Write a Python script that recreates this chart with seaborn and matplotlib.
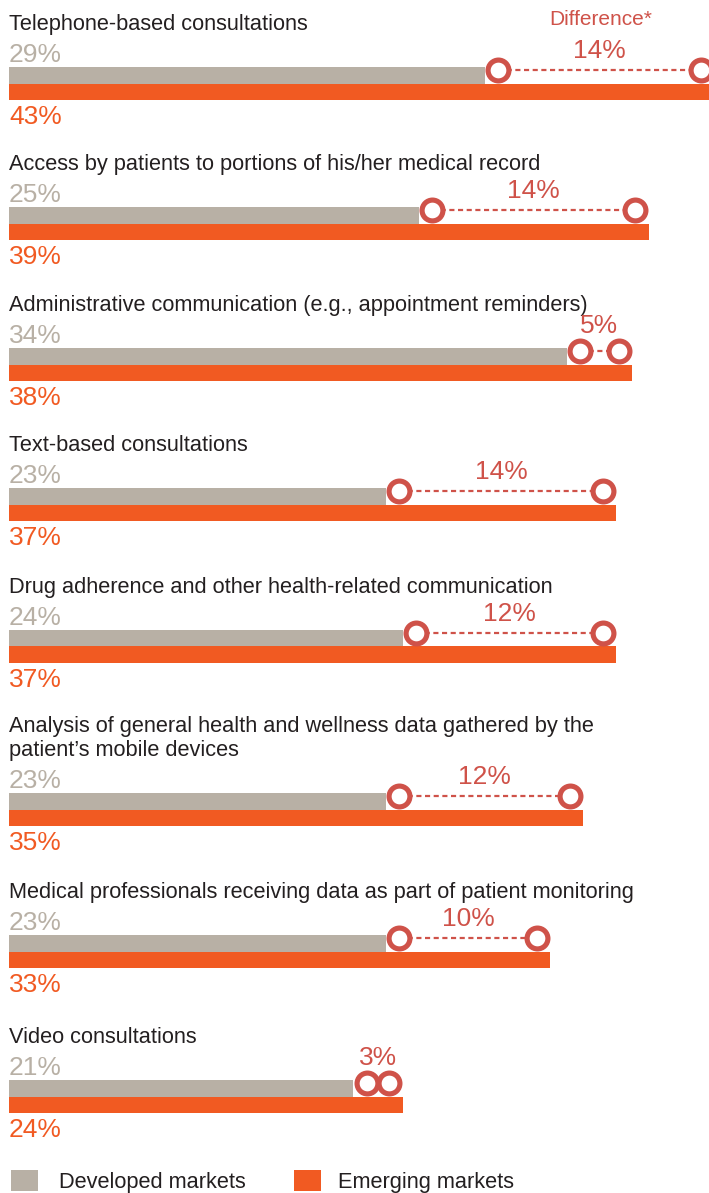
import matplotlib
matplotlib.use("Agg")
import matplotlib.pyplot as plt
from matplotlib.patches import Patch
import pandas as pd
import seaborn as sns

# ---- data -------------------------------------------------------------
categories = [
    "Telephone-based consultations",
    "Access by patients to portions of his/her medical record",
    "Administrative communication (e.g., appointment reminders)",
    "Text-based consultations",
    "Drug adherence and other health-related communication",
    "Analysis of general health and wellness data gathered by the\npatient\u2019s mobile devices",
    "Medical professionals receiving data as part of patient monitoring",
    "Video consultations",
]
developed = [29, 25, 34, 23, 24, 23, 23, 21]
emerging = [43, 39, 38, 37, 37, 35, 33, 24]
difference = [14, 14, 5, 14, 12, 12, 10, 3]
series = ["Developed markets", "Emerging markets"]

# ---- style ------------------------------------------------------------
GRAY = "#b8b0a5"
ORANGE = "#f15a22"
RED = "#cf5249"
INK = "#231f20"

sns.set_theme(style="white")
plt.rcParams["font.family"] = ["Liberation Sans", "DejaVu Sans"]
NUM_SIZE = 19
TITLE_SIZE = 15.7

W, H, DPI = 709, 1193, 100
fig = plt.figure(figsize=(W / DPI, H / DPI), dpi=DPI)

PX_PER_PCT = 16.4
LEFT_PX = 9
xlim = (-LEFT_PX / PX_PER_PCT, (W - LEFT_PX) / PX_PER_PCT)

# top pixel row of each pair of bars, and height of the pair
bar_tops = [67, 207, 348, 488, 630, 793, 935, 1080]
BLOCK = 33
CIRCLE_Y = -0.32

for i, cat in enumerate(categories):
    top = bar_tops[i]
    ax = fig.add_axes([0, 1 - (top + BLOCK) / H, 1, BLOCK / H])
    df = pd.DataFrame({"market": series, "value": [developed[i], emerging[i]]})
    sns.barplot(data=df, x="value", y="market", hue="market",
                palette=[GRAY, ORANGE], width=1, saturation=1, linewidth=0,
                errorbar=None, legend=False, orient="h", ax=ax)
    ax.set_xlim(*xlim)
    ax.set_ylim(1.5, -0.5)
    ax.axis("off")

    # category title
    ax.annotate(cat, xy=(0, 1), xycoords=("data", "axes fraction"),
                xytext=(0, 32), textcoords="offset pixels",
                ha="left", va="bottom", fontsize=TITLE_SIZE, color=INK,
                linespacing=1.2, annotation_clip=False)
    # value labels
    ax.annotate(f"{developed[i]}%", xy=(0, 1), xycoords=("data", "axes fraction"),
                xytext=(0, 5), textcoords="offset pixels",
                ha="left", va="baseline", fontsize=NUM_SIZE, color=GRAY,
                annotation_clip=False)
    ax.annotate(f"{emerging[i]}%", xy=(0, 1), xycoords=("data", "axes fraction"),
                xytext=(0, -57), textcoords="offset pixels",
                ha="left", va="baseline", fontsize=NUM_SIZE, color=ORANGE,
                annotation_clip=False)

    # difference connector
    ax.plot([developed[i] + 0.8, emerging[i] - 0.8], [CIRCLE_Y, CIRCLE_Y],
            color=RED, lw=1.6, ls=(0, (2.3, 1.6)),
            marker="o", ms=15, mfc="white", mec=RED, mew=3.7,
            clip_on=False, zorder=5)
    mid = (developed[i] + emerging[i]) / 2
    lift = 12 if difference[i] >= 10 else 18
    ax.annotate(f"{difference[i]}%", xy=(mid, CIRCLE_Y),
                xytext=(0, lift), textcoords="offset pixels",
                ha="center", va="baseline", fontsize=NUM_SIZE, color=RED,
                annotation_clip=False)
    if i == 0:
        ax.annotate("Difference*", xy=(mid, CIRCLE_Y),
                    xytext=(1, 45), textcoords="offset pixels",
                    ha="center", va="baseline", fontsize=15, color=RED,
                    annotation_clip=False)

# legend: one entry per market
legend_x = [11, 294]
legend_pad = [0.96, 0.78]
for name, col, lx, pad in zip(series, [GRAY, ORANGE], legend_x, legend_pad):
    fig.legend([Patch(facecolor=col, edgecolor="none")], [name],
               loc="lower left", bbox_to_anchor=(lx / W, 0.0),
               frameon=False, fontsize=TITLE_SIZE,
               handlelength=1.24, handleheight=1.1, handletextpad=pad,
               borderpad=0, borderaxespad=0, labelcolor=INK)

fig.savefig("out.png", dpi=DPI)
